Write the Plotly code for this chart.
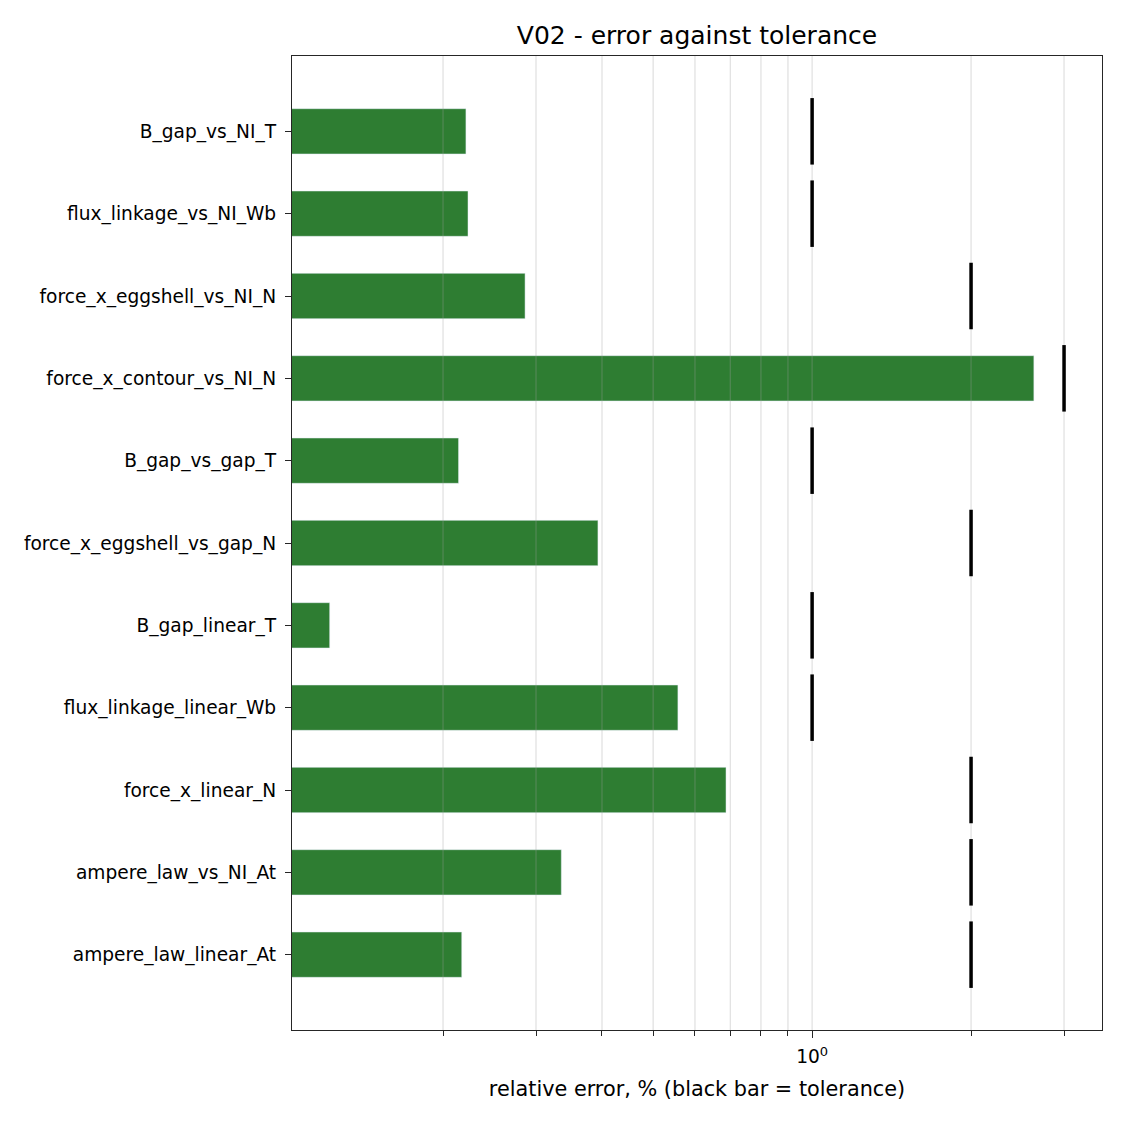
"""
Bar chart of relative error per check against its tolerance (V02)
"""
import plotly.graph_objects as go

checks = [
    "B_gap_vs_NI_T",
    "flux_linkage_vs_NI_Wb",
    "force_x_eggshell_vs_NI_N",
    "force_x_contour_vs_NI_N",
    "B_gap_vs_gap_T",
    "force_x_eggshell_vs_gap_N",
    "B_gap_linear_T",
    "flux_linkage_linear_Wb",
    "force_x_linear_N",
    "ampere_law_vs_NI_At",
    "ampere_law_linear_At",
]
rel_error_pct = [0.221, 0.223, 0.286, 2.63, 0.214, 0.393, 0.122, 0.557, 0.687, 0.335, 0.217]
tolerance_pct = [1, 1, 2, 3, 1, 2, 1, 1, 2, 2, 2]

major_ticks = [1]
minor_ticks = [0.2, 0.3, 0.4, 0.5, 0.6, 0.7, 0.8, 0.9, 2, 3]

font = "DejaVu Sans, Liberation Sans, sans-serif"
grid = "rgba(160,160,160,0.3)"
y_range = [10.915, -0.915]

# page body adds ~8px margin, so the figure is a bit smaller than the window
W, H = 1117, 1117

fig = go.Figure()

# green bars = error
fig.add_trace(go.Bar(x=rel_error_pct, y=checks, orientation="h",
                     marker_color="#2e7d32", width=0.55, showlegend=False))

# grid on top of the bars (semi transparent) -> own overlay axis 0..1
gx, gy = [], []
for v in major_ticks + minor_ticks:
    gx += [v, v, None]
    gy += [0, 1, None]
fig.add_trace(go.Scatter(x=gx, y=gy, yaxis="y2", mode="lines",
                         line=dict(color=grid, width=1.3),
                         hoverinfo="skip", showlegend=False))

# black bar = tolerance, above the grid
fig.add_trace(go.Scatter(x=tolerance_pct, y=checks, yaxis="y3", mode="markers",
                         marker=dict(symbol="line-ns", size=47.5,
                                     line=dict(color="black", width=3.5)),
                         showlegend=False))

fig.update_layout(
    width=W, height=H,
    paper_bgcolor="white", plot_bgcolor="white",
    font=dict(family=font, size=18.6, color="black"),
    margin=dict(l=284, r=23, t=48, b=95),
    title=dict(text="V02 - error against tolerance", x=0.5, xref="paper", xanchor="center",
               y=1 - 27 / H, yanchor="middle", yref="container",
               font=dict(size=25)),
    yaxis2=dict(overlaying="y", range=[0, 1], visible=False, fixedrange=True),
    yaxis3=dict(overlaying="y", type="category", categoryorder="array",
                categoryarray=checks, range=y_range, visible=False),
)

fig.update_xaxes(type="log", range=[-0.985, 0.549],
                 tickmode="array", tickvals=major_ticks, ticktext=["10<sup>0</sup>"],
                 ticks="outside", ticklen=7, tickcolor="#262626",
                 tickfont=dict(size=18.6), ticklabelstandoff=3,
                 showgrid=False,
                 minor=dict(tickmode="array", tickvals=minor_ticks, ticks="outside",
                            ticklen=4.5, tickcolor="#262626", showgrid=False),
                 showline=True, linecolor="#262626", linewidth=1.3, mirror=True,
                 zeroline=False,
                 title=dict(text="relative error, % (black bar = tolerance)", standoff=14,
                            font=dict(size=20.8)))

fig.update_yaxes(selector=dict(type="category"), overwrite=False)
fig.layout.yaxis.update(type="category", categoryorder="array", categoryarray=checks,
                        range=y_range,
                        ticks="outside", ticklen=6, tickcolor="#262626",
                        tickfont=dict(size=18.6),
                        showgrid=False, showline=True, linecolor="#262626", linewidth=1.3,
                        mirror=True, ticklabelstandoff=5)

fig.write_html("out.html")
